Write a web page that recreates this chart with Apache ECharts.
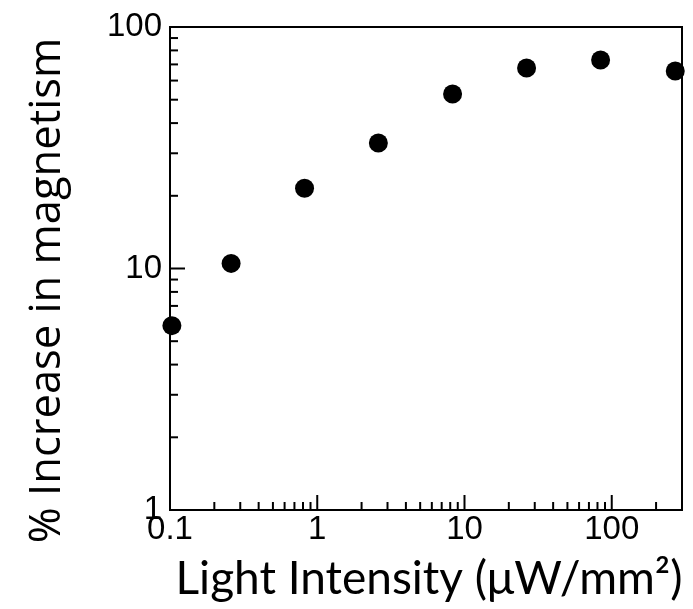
<!DOCTYPE html>
<html>
<head>
<meta charset="utf-8">
<script src="https://cdn.jsdelivr.net/npm/echarts@6/dist/echarts.min.js"></script>
<style>
html,body{margin:0;padding:0;background:#fff;}
#chart{width:693px;height:609px;}
</style>
</head>
<body>
<div id="chart"></div>
<script>
// Data
const lightIntensity = [0.103, 0.26, 0.82, 2.6, 8.3, 26.4, 84, 270];
const increasePct = [5.8, 10.5, 21.5, 33.1, 52.8, 67.7, 73, 65.7];

// Axis ranges and ticks
const xRange = [0.1, 300];
const yRange = [1, 100];
const xDecades = [0.1, 1, 10, 100];
const yDecades = [1, 10];
const yTopDecade = 100;
const minorMultipliers = [2, 3, 4, 5, 6, 7, 8, 9];

const xTitle = 'Light Intensity (\u03BCW/mm\u00B2)';
const yTitle = '% Increase in magnetism';

// Build tick items: [x, y, kind(0=x,1=y), major(1/0)]
const tickItems = [];
xDecades.forEach(d => {
  tickItems.push([d, yRange[0], 0, 1]);
  minorMultipliers.forEach(m => {
    const v = m * d;
    if (v < xRange[1]) tickItems.push([v, yRange[0], 0, 0]);
  });
});
yDecades.forEach(d => {
  tickItems.push([xRange[0], d, 1, 1]);
  minorMultipliers.forEach(m => {
    const v = m * d;
    if (v < yRange[1]) tickItems.push([xRange[0], v, 1, 0]);
  });
});
tickItems.push([xRange[0], yTopDecade, 1, 1]);

const points = lightIntensity.map((x, i) => [x, increasePct[i]]);

function powLabel(v) {
  const l = Math.log10(v);
  if (Math.abs(l - Math.round(l)) < 1e-6) {
    return String(+Math.pow(10, Math.round(l)).toPrecision(3));
  }
  return '';
}

const chart = echarts.init(document.getElementById('chart'), null, {renderer: 'canvas'});
chart.setOption({
  animation: false,
  backgroundColor: '#fff',
  grid: {
    left: 170, top: 27, right: 11, bottom: 99,
    show: true, borderColor: '#000', borderWidth: 2, backgroundColor: 'transparent'
  },
  xAxis: {
    type: 'log', logBase: 10, min: xRange[0], max: xRange[1],
    axisLine: {show: true, lineStyle: {color: '#000', width: 2}},
    axisTick: {show: false},
    splitLine: {show: false},
    minorTick: {show: false},
    axisLabel: {
      color: '#000', fontFamily: 'Liberation Sans', fontSize: 33, margin: 3,
      formatter: powLabel, showMaxLabel: true, showMinLabel: true
    },
    name: xTitle, nameLocation: 'middle', nameGap: 46,
    nameTextStyle: {color: '#000', fontFamily: 'Lato', fontSize: 46, padding: [0, 0, 0, 6]}
  },
  yAxis: {
    type: 'log', logBase: 10, min: yRange[0], max: yRange[1],
    axisLine: {show: true, lineStyle: {color: '#000', width: 2}},
    axisTick: {show: false},
    splitLine: {show: false},
    axisLabel: {
      color: '#000', fontFamily: 'Liberation Sans', fontSize: 33, margin: 8,
      formatter: powLabel, padding: [0, 0, 14, 0]
    },
    name: yTitle, nameLocation: 'middle', nameGap: 100,
    nameTextStyle: {color: '#000', fontFamily: 'Open Sans', fontSize: 43.5, padding: [0, 44, 0, 0]}
  },
  series: [
    {
      type: 'custom',
      coordinateSystem: 'cartesian2d',
      silent: true,
      clip: false,
      data: tickItems,
      encode: {x: 0, y: 1},
      renderItem: function (params, api) {
        const p = api.coord([api.value(0), api.value(1)]);
        const kind = api.value(2);
        const major = api.value(3);
        const len = major ? 15 : 8;
        const shape = kind === 0
          ? {x1: p[0], y1: p[1], x2: p[0], y2: p[1] - len}
          : {x1: p[0], y1: p[1], x2: p[0] + len, y2: p[1]};
        return {type: 'line', shape: shape, style: {stroke: '#000', lineWidth: 2}};
      },
      z: 3
    },
    {
      type: 'scatter',
      data: points,
      symbol: 'circle',
      symbolSize: 19,
      itemStyle: {color: '#000', opacity: 1},
      clip: false,
      z: 4
    }
  ]
});
</script>
</body>
</html>
